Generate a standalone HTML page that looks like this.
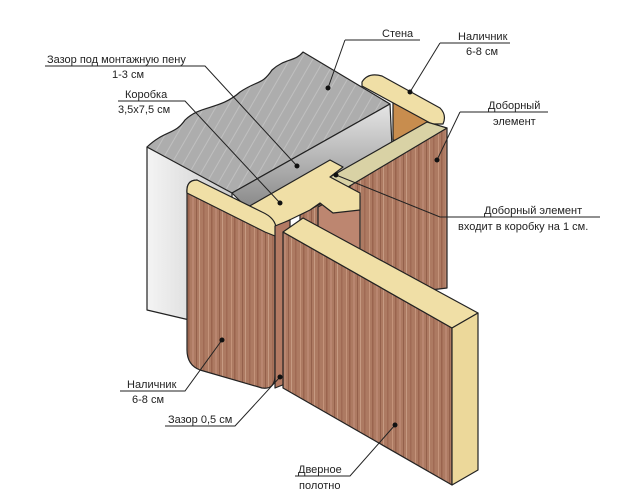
<!DOCTYPE html>
<html><head><meta charset="utf-8"><style>
html,body{margin:0;padding:0;background:#fff;width:642px;height:502px;overflow:hidden}
svg text{font-family:"Liberation Sans",sans-serif;font-size:11px;fill:#222}
</style></head><body>
<svg width="642" height="502" viewBox="0 0 642 502" xmlns="http://www.w3.org/2000/svg">
<defs>
<pattern id="wood" width="23" height="10" patternUnits="userSpaceOnUse">
<rect width="23" height="10" fill="#ad7a62"/>
<rect x="1" width="1" height="10" fill="#c4937a"/>
<rect x="4" width="1.5" height="10" fill="#9a644e"/>
<rect x="8" width="2" height="10" fill="#b98670"/>
<rect x="12" width="1" height="10" fill="#94604b"/>
<rect x="15" width="1" height="10" fill="#c69a82"/>
<rect x="19" width="1.5" height="10" fill="#a06a54"/>
</pattern>
<pattern id="gray" width="10" height="10" patternUnits="userSpaceOnUse" patternTransform="rotate(30)">
<rect width="10" height="10" fill="#adadad"/><rect width="1" height="10" fill="#c0c0c0"/>
</pattern>
<linearGradient id="end" x1="0" y1="0" x2="0" y2="1"><stop offset="0" stop-color="#e6e6e6"/><stop offset="1" stop-color="#8a8a8a"/></linearGradient>
<linearGradient id="side" x1="0" y1="0" x2="1" y2="0"><stop offset="0" stop-color="#f4f4f4"/><stop offset="1" stop-color="#cccccc"/></linearGradient>
</defs>
<g stroke="#222" stroke-width="1.2" stroke-linejoin="round">
<path d="M147,147 L232,192 L232,330 L147,310 Z" fill="url(#side)"/>
<path d="M147,147 C165,130 175,135 185,120 C200,105 220,110 240,92 C258,80 262,85 272,70 C285,58 295,62 303,52 L390,104 L232,193 Z" fill="url(#gray)"/>
<path d="M232,193 L390,104 L393,168 L246,207 Z" fill="url(#end)"/>
<path d="M393,100 L433,122 L433,150 L393,140 Z" fill="#c88d4e"/>
<path d="M362,82 Q368,72 382,76 L440,108 Q447,115 443,124 L432,124 L362,86 Z" fill="#f0dfa6"/>
<path d="M350,183 L447,128 L447,288 L350,300 Z" fill="url(#wood)"/>
<path d="M330,177 L427,122 L447,128 L348,187 Z" fill="#d9d2a5"/>
<path d="M300,215 L335,196 L335,265 L300,260 Z" fill="url(#wood)"/>
<path d="M318,207 L350,190 L360,196 L360,265 L318,265 Z" fill="#bd8670"/>
<path d="M248,207 L330,160 L343,167 L330,177 L360,193 L360,210 L333,213 L320,203 L310,210 L273,228 Z" fill="#f0dfa6"/>
<path d="M187,193 Q186,180 197,180 L275,226 L275,375 Q275,390 262,388 L200,370 Q187,365 187,350 Z" fill="url(#wood)"/>
<path d="M187,193 Q186,180 197,180 L262,212 Q280,220 275,236 L265,232 L193,196 Z" fill="#f0dfa6"/>
<path d="M275,226 L290,220 L290,382 L275,388 Z" fill="#b37a63"/>
<path d="M283,232 L452,328 L452,485 L283,388 Z" fill="url(#wood)"/>
<path d="M283,232 L303,218 L478,313 L452,328 Z" fill="#f0dfa6"/>
<path d="M452,328 L478,313 L478,470 L452,485 Z" fill="#ecd89a"/>
</g>
<g stroke="#222" stroke-width="1" fill="none">
<path d="M345,40 L420,40"/><path d="M345,40 L328,88"/>
<path d="M440,43 L510,43"/><path d="M440,43 L410,92"/>
<path d="M45,66 L205,66 L297,166"/>
<path d="M118,101 L185,101 L280,203"/>
<path d="M460,112 L548,112"/><path d="M460,112 L437,160"/>
<path d="M600,217 L440,217 L336,175"/>
<path d="M120,391 L185,391 L222,340"/>
<path d="M165,426 L235,426 L280,377"/>
<path d="M295,476 L350,476 L395,425"/>
</g>
<g fill="#111">
<circle cx="328" cy="88" r="2.5"/><circle cx="410" cy="92" r="2.5"/><circle cx="297" cy="166" r="2.5"/>
<circle cx="280" cy="203" r="2.5"/><circle cx="437" cy="160" r="2.5"/><circle cx="336" cy="175" r="2.5"/>
<circle cx="222" cy="340" r="2.5"/><circle cx="280" cy="377" r="2.5"/><circle cx="395" cy="425" r="2.5"/>
</g>
<text x="382" y="37">Стена</text>
<text x="458" y="40">Наличник</text><text x="466" y="55">6-8 см</text>
<text x="47" y="63">Зазор под монтажную пену</text><text x="112" y="78">1-3 см</text>
<text x="125" y="98">Коробка</text><text x="118" y="113">3,5х7,5 см</text>
<text x="488" y="109">Доборный</text><text x="493" y="125">элемент</text>
<text x="484" y="214">Доборный элемент</text><text x="458" y="230">входит в коробку на 1 см.</text>
<text x="127" y="388">Наличник</text><text x="132" y="403">6-8 см</text>
<text x="168" y="423">Зазор 0,5 см</text>
<text x="298" y="473">Дверное</text><text x="299" y="489">полотно</text>
</svg>
</body></html>
